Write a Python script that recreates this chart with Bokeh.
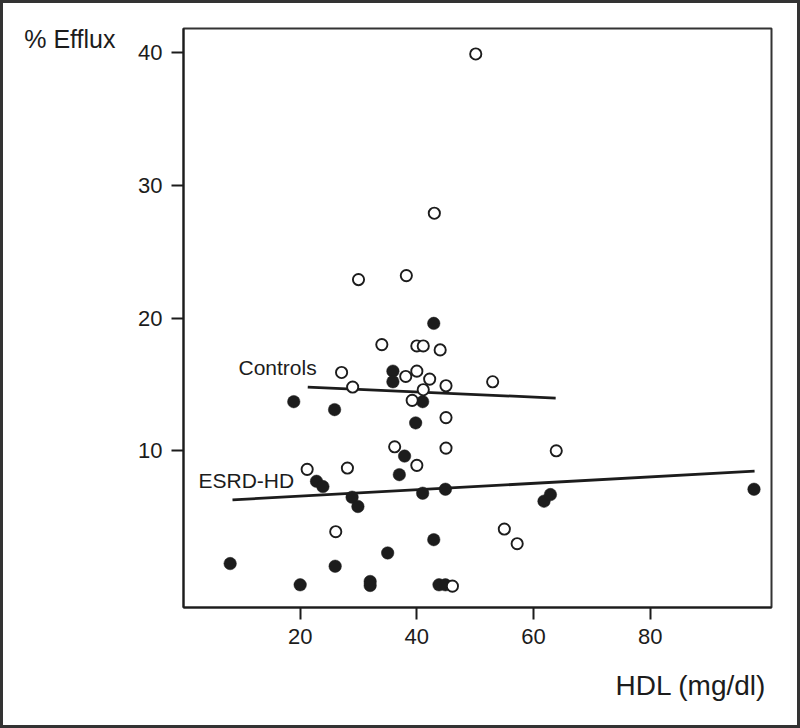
from bokeh.plotting import figure
from bokeh.models import Range1d, FixedTicker, LinearAxis
from bokeh.layouts import column
from bokeh.core.properties import value
from bokeh.embed import file_html
from bokeh.resources import INLINE

# ESRD-HD patients (filled circles)
esrd_hdl = [42.9, 35.9, 35.9, 18.9, 25.9, 41.0, 39.8, 37.9, 37.0, 22.8, 23.9, 28.9, 29.9,
            41.0, 44.9, 61.8, 62.9, 42.9, 35.0, 8.0, 26.0, 20.0, 32.0, 32.0, 43.8, 44.9, 97.8]
esrd_efflux = [19.6, 16.0, 15.2, 13.7, 13.1, 13.7, 12.1, 9.6, 8.2, 7.7, 7.3, 6.5, 5.8,
               6.8, 7.1, 6.2, 6.7, 3.3, 2.3, 1.5, 1.3, -0.1, 0.15, -0.15, -0.1, -0.1, 7.1]

# Controls (open circles)
ctrl_hdl = [50.1, 43.0, 38.2, 30.0, 34.0, 40.0, 41.1, 44.0, 27.1, 29.0, 38.1, 40.0, 42.2, 41.1,
            45.0, 53.0, 39.2, 45.0, 36.2, 45.0, 63.9, 40.0, 21.2, 28.1, 26.1, 55.0, 57.2, 46.1]
ctrl_efflux = [39.9, 27.9, 23.2, 22.9, 18.0, 17.9, 17.9, 17.6, 15.9, 14.8, 15.6, 16.0, 15.4, 14.6,
               14.9, 15.2, 13.8, 12.5, 10.3, 10.2, 10.0, 8.9, 8.6, 8.7, 3.9, 4.1, 3.0, -0.2]

# Fitted regression lines (end points)
ctrl_fit_x = [21.3, 63.8]
ctrl_fit_y = [14.8, 13.97]
esrd_fit_x = [8.4, 97.9]
esrd_fit_y = [6.3, 8.46]

x_ticks = [20, 40, 60, 80]
y_ticks = [10, 20, 30, 40]
x_title = "HDL (mg/dl)"
y_title = "% Efflux"

INK = "#1c1c1c"
FONT = "Liberation Sans"

p = figure(width=794, height=722, output_backend="svg", toolbar_location=None,
           x_range=Range1d(0, 100.8), y_range=Range1d(-1.81, 41.82),
           min_border_left=180, min_border_right=26, min_border_top=25, min_border_bottom=118)

p.xgrid.visible = False
p.ygrid.visible = False
p.outline_line_color = "#333333"
p.outline_line_width = 2
p.background_fill_color = "white"
p.border_fill_color = "white"

for ax, ticks in ((p.xaxis[0], x_ticks), (p.yaxis[0], y_ticks)):
    ax.ticker = FixedTicker(ticks=ticks)
    ax.minor_tick_line_color = None
    ax.major_tick_in = 0
    ax.major_tick_out = 12
    ax.major_tick_line_width = 2
    ax.major_tick_line_color = INK
    ax.axis_line_width = 2
    ax.axis_line_color = INK
    ax.major_label_text_font = FONT
    ax.major_label_text_font_size = "22px"
    ax.major_label_text_color = INK
    ax.major_label_standoff = 9

# axis titles, drawn as one-label helper axes placed outside the main axes
y_title_axis = LinearAxis(ticker=FixedTicker(ticks=[41]), major_label_overrides={41: y_title},
                          axis_line_color=None, major_tick_line_color=None, minor_tick_line_color=None,
                          major_tick_in=0, major_tick_out=0, major_label_standoff=20,
                          major_label_text_font=FONT, major_label_text_font_size="25px",
                          major_label_text_color=INK)
p.add_layout(y_title_axis, "left")

x_title_axis = LinearAxis(ticker=FixedTicker(ticks=[87]), major_label_overrides={87: x_title},
                          axis_line_color=None, major_tick_line_color=None, minor_tick_line_color=None,
                          major_tick_in=0, major_tick_out=0, major_label_standoff=23,
                          major_label_text_font=FONT, major_label_text_font_size="28px",
                          major_label_text_color=INK)
p.add_layout(x_title_axis, "below")

# regression lines
p.line(ctrl_fit_x, ctrl_fit_y, line_color=INK, line_width=2.8)
p.line(esrd_fit_x, esrd_fit_y, line_color=INK, line_width=2.8)

# points
p.scatter(esrd_hdl, esrd_efflux, marker="circle", size=12.5, fill_color=INK, line_color=INK, line_width=0.5)
p.scatter(ctrl_hdl, ctrl_efflux, marker="circle", size=11.2, fill_color="white", line_color=INK, line_width=1.9)

# group labels
p.text(x=[9.43], y=[16.27], text=["Controls"], text_font=value(FONT), text_font_size="21px",
       text_color=INK, text_align="left", text_baseline="alphabetic")
p.text(x=[2.57], y=[7.74], text=["ESRD-HD"], text_font=value(FONT), text_font_size="21px",
       text_color=INK, text_align="left", text_baseline="alphabetic")

layout = column(p, styles={"border": "3px solid #333333"})

open("out.html", "w").write(file_html(layout, INLINE))
